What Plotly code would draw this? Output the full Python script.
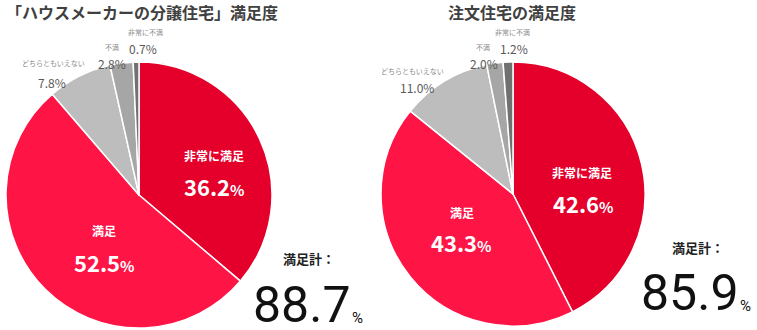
import plotly.graph_objects as go

W, H = 757, 330

categories = ["非常に満足", "満足", "どちらともいえない", "不満", "非常に不満"]
house_maker = [36.2, 52.5, 7.8, 2.8, 0.7]
custom_home = [42.6, 43.3, 11.0, 2.0, 1.2]
titles = ["「ハウスメーカーの分譲住宅」満足度", "注文住宅の満足度"]
total_label = "満足計："

colors = ["#E4002B", "#FF1446", "#BDBDBD", "#A6A6A6", "#707070"]
JP = "Noto Sans CJK JP"


def px(x):
    return x / W


def py(y):
    return 1 - y / H


def pie_domain(cx, cy, r):
    return dict(x=[px(cx - r), px(cx + r)], y=[py(cy + r), py(cy - r)])


fig = go.Figure()
for vals, (cx, cy, r) in zip([house_maker, custom_home], [(139, 195, 133), (513, 194, 132)]):
    fig.add_trace(go.Pie(
        labels=categories, values=vals, sort=False, direction="clockwise",
        rotation=0, textinfo="none", hoverinfo="label+value",
        marker=dict(colors=colors, line=dict(color="white", width=1.5)),
        domain=pie_domain(cx, cy, r), showlegend=False,
    ))

ann = []


def text(x, y, s, size, color, family=JP, weight=None):
    font = dict(size=size, color=color, family=family)
    if weight is not None:
        font["weight"] = weight
    ann.append(dict(x=px(x), y=py(y), xref="paper", yref="paper", text=s,
                    showarrow=False, xanchor="center", yanchor="middle",
                    font=font))


def pct(v, small):
    return f"<b>{v:.1f}<span style='font-size:{small}px'>%</span></b>"


# titles
text(142, 12, f"<b>{titles[0]}</b>", 16, "#404040")
text(512, 12, f"<b>{titles[1]}</b>", 16, "#404040")

# label positions (centres) per chart: inside name/value, outside name/value
layouts = [
    dict(inside=[((214, 155), (214, 186)), ((104, 230), (104, 262))],
         outside=[((53, 63), (52, 82)), ((112, 47), (112, 63)), ((145, 32), (143, 48))],
         total=(309, 258), big=(302, 305), sign=(357, 318)),
    dict(inside=[((582, 172), (583, 203)), ((462, 212), (461, 242))],
         outside=[((412, 71), (417, 87)), ((483, 47), (484, 63)), ((512, 32), (514, 49))],
         total=(698, 248), big=(690, 293), sign=(745, 306)),
]

for vals, lay in zip([house_maker, custom_home], layouts):
    for i, ((nx, ny), (vx, vy)) in enumerate(lay["inside"]):
        text(nx, ny, f"<b>{categories[i]}</b>", 12, "white")
        text(vx, vy, pct(vals[i], 15), 22, "white")
    for j, ((nx, ny), (vx, vy)) in enumerate(lay["outside"]):
        i = j + 2
        text(nx, ny, categories[i], 7, "#8C8C8C")
        text(vx, vy, f"{vals[i]:.1f}%", 12, "#595959")
    total = vals[0] + vals[1]
    text(*lay["total"], f"<b>{total_label}</b>", 13, "#222222")
    text(*lay["big"], f"{total:.1f}", 50, "#111111", family="Roboto")
    text(*lay["sign"], "%", 15, "#111111", family="Roboto")

fig.update_layout(
    width=W, height=H, margin=dict(l=0, r=0, t=0, b=0),
    paper_bgcolor="white", plot_bgcolor="white", annotations=ann,
)

fig.write_html("out.html")
